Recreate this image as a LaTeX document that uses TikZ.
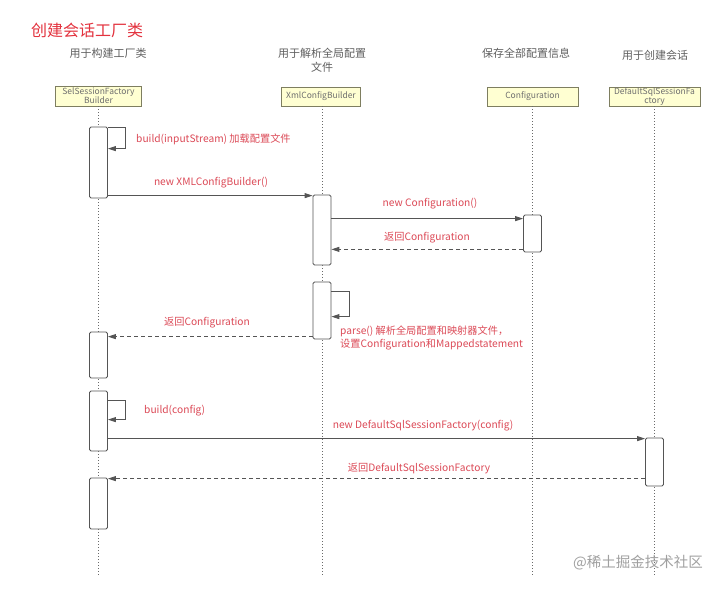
\documentclass[tikz,border=0pt]{standalone}
\usepackage{fontspec}
\setmainfont{Noto Sans CJK SC}
\usetikzlibrary{arrows.meta}
\definecolor{msgred}{HTML}{DC4A57}
\definecolor{titlered}{HTML}{E3323E}
\definecolor{headgray}{HTML}{5F5F5F}
\definecolor{boxfill}{HTML}{FFFFD2}
\definecolor{boxline}{HTML}{7E7E60}
\definecolor{boxtext}{HTML}{6E6E6E}
\definecolor{linegray}{HTML}{555555}
\definecolor{lifegray}{HTML}{6A6A6A}
\definecolor{wmgray}{HTML}{A0A0A0}
\tikzset{
  participant/.style={draw=boxline, fill=boxfill, line width=0.9pt, inner sep=0pt,
    text=boxtext, font=\fontsize{8.5}{9}\selectfont, align=center},
  lifeline/.style={draw=lifegray, line width=0.8pt, dash pattern=on 1pt off 2pt},
  actbar/.style={draw=linegray, fill=white, line width=0.8pt, rounded corners=1.5pt,
    minimum width=18pt, inner sep=0pt},
  msg/.style={draw=linegray, line width=0.9pt, -{Triangle[length=8pt,width=5pt]}},
  retmsg/.style={msg, dash pattern=on 4pt off 3pt},
  msglabel/.style={text=msgred, font=\fontsize{10.2}{12.5}\selectfont, inner sep=0pt},
  headlabel/.style={text=headgray, font=\fontsize{11}{14}\selectfont, inner sep=0pt, align=center}
}
\begin{document}
\begin{tikzpicture}[x=1pt,y=-1pt]
\useasboundingbox[fill=white] (0,0) rectangle (720,590);

% title and headers
\node[text=titlered, font=\fontsize{16}{18}\selectfont, anchor=west, inner sep=0pt] (title) at (31,30) {创建会话工厂类};
\node[headlabel] (h1) at (108,53) {用于构建工厂类};
\node[headlabel] (h2) at (322,60) {用于解析全局配置\\文件};
\node[headlabel] (h3) at (526,53) {保存全部配置信息};
\node[headlabel] (h4) at (655,55) {用于创建会话};

% participants
\node[participant, minimum width=86pt, minimum height=20pt] (sel) at (98.5,96) {SelSessionFactory\\Builder};
\node[participant, minimum width=79pt, minimum height=19pt] (xml) at (321,96.5) {XmlConfigBuilder};
\node[participant, minimum width=91pt, minimum height=19pt] (conf) at (532.5,96.5) {Configuration};
\node[participant, minimum width=91pt, minimum height=19pt] (dsf) at (654.5,96.5) {DefaultSqlSessionFa\\ctory};

% lifeline ends
\coordinate (selE) at (98.5,575);
\coordinate (xmlE) at (322,575);
\coordinate (confE) at (532.5,575);
\coordinate (dsfE) at (654.5,575);
\draw[lifeline] (sel.south -| selE) -- (selE);
\draw[lifeline] (xml.south -| xmlE) -- (xmlE);
\draw[lifeline] (conf.south -| confE) -- (confE);
\draw[lifeline] (dsf.south -| dsfE) -- (dsfE);

% activation bars
\node[actbar, minimum height=71pt] (a1) at (98.5,162.5) {};
\node[actbar, minimum height=70pt] (b1) at (322,230) {};
\node[actbar, minimum height=37pt] (c1) at (532.5,233.5) {};
\node[actbar, minimum height=57pt] (b2) at (322,310.5) {};
\node[actbar, minimum height=46pt] (a2) at (98.5,355) {};
\node[actbar, minimum height=60pt] (a3) at (98.5,421) {};
\node[actbar, minimum height=48pt] (d1) at (654.5,462) {};
\node[actbar, minimum height=51pt] (a4) at (98.5,503.5) {};

% messages
\draw[msg] ([yshift=-1pt]a1.north east) -- ++(18,0) -- ++(0,21) -- ++(-18,0);
\node[msglabel, anchor=west] (l1) at (136,139) {build(inputStream) 加载配置文件};

\draw[msg] ([yshift=-1pt]a1.east |- b1.north) -- ([yshift=-1pt]b1.north west);
\node[msglabel] (l2) at (211,183) {new XMLConfigBuilder()};

\draw[msg] ([yshift=-4pt]b1.east |- c1.north) -- ([yshift=-4pt]c1.north west);
\node[msglabel] (l3) at (430,204) {new Configuration()};

\draw[retmsg] ([yshift=3pt]c1.south west) -- ([yshift=3pt]c1.south west -| b1.east);
\node[msglabel] (l4) at (427,238) {返回Configuration};

\draw[msg] ([yshift=-10pt]b2.north east) -- ++(18,0) -- ++(0,25) -- ++(-18,0);
\node[msglabel, anchor=north west, align=left] (l5) at (340,326) {parse() 解析全局配置和映射器文件，\\设置Configuration和Mappedstatement};

\draw[retmsg] ([yshift=-5pt]a2.north east -| b2.west) -- ([yshift=-5pt]a2.north east);
\node[msglabel] (l6) at (207,323) {返回Configuration};

\draw[msg] ([yshift=-10pt]a3.north east) -- ++(18,0) -- ++(0,19) -- ++(-18,0);
\node[msglabel, anchor=west] (l7) at (144,411) {build(config)};

\draw[msg] ([yshift=-1pt]a3.east |- d1.north) -- ([yshift=-1pt]d1.north west);
\node[msglabel] (l8) at (423,426) {new DefaultSqlSessionFactory(config)};

\draw[retmsg] ([yshift=-1pt]a4.north east -| d1.west) -- ([yshift=-1pt]a4.north east);
\node[msglabel] (l9) at (419,468) {返回DefaultSqlSessionFactory};

% watermark
\node[text=wmgray, font=\fontsize{14.5}{16}\selectfont, anchor=east, inner sep=0pt] (wm) at (703,563) {@稀土掘金技术社区};
\end{tikzpicture}
\end{document}
